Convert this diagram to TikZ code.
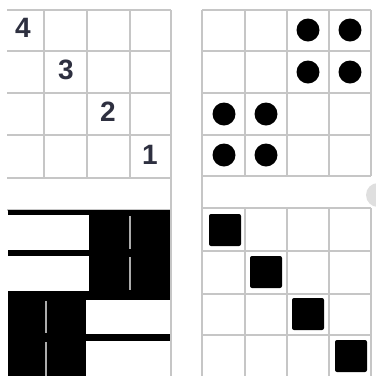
\documentclass[tikz,border=0pt]{standalone}
\usepackage{fontspec}
\setmainfont{Liberation Sans}
\usepackage{tikz}
\usetikzlibrary{positioning}
\definecolor{digitcolor}{rgb}{0.18,0.19,0.25}

\begin{document}
\begin{tikzpicture}[x=1pt, y=-1pt,
  gridline/.style={draw=gray!45, line width=1.8pt},
  dotmark/.style={circle, fill=black, minimum size=23pt, inner sep=0pt},
  boxmark/.style={rectangle, fill=black, rounded corners=2pt,
                  minimum size=32pt, inner sep=0pt},
  sep/.style={draw=gray!65, line width=2.2pt},
  digit/.style={font=\bfseries\fontsize{28}{28}\selectfont, text=digitcolor}
]
\useasboundingbox (0,0) rectangle (376,376);

% left panel: numbered grid
\foreach \y in {10,51,93,135,178,210}
  \draw[gridline] (7,\y) -- (171,\y);
\foreach \x in {44,87,130}
  \draw[gridline] (\x,10) -- (\x,178);

\node[digit] (n4) at (23,28)  {4};
\node[digit] (n3) at (66,70)  {3};
\node[digit] (n2) at (108,112) {2};
\node[digit] (n1) at (150,155) {1};

% left panel: black and white pairs
\fill[black] (8,210) rectangle (170,376);
\fill[white] (8,215) rectangle (89,250);
\fill[white] (8,256) rectangle (89,291);
\fill[white] (86,300) rectangle (170,334);
\fill[white] (86,341) rectangle (170,378);
\draw[sep] (130,216) -- (130,249);
\draw[sep] (130,257) -- (130,290);
\draw[sep] (46,301) -- (46,333);
\draw[sep] (46,342) -- (46,378);
\draw[gridline] (171,10) -- (171,378);

% right panel: dots grid
\foreach \y in {10,51,93,135,176,208,251,294,335}
  \draw[gridline] (202,\y) -- (371,\y);
\foreach \x in {245,287,329,371}
  \draw[gridline] (\x,10) -- (\x,176);
\foreach \x in {245,287,329,371}
  \draw[gridline] (\x,208) -- (\x,378);
\draw[gridline] (202,10) -- (202,378);

\node[dotmark] (d13) at (308,30)  {};
\node[dotmark] (d14) at (350,30)  {};
\node[dotmark] (d23) at (308,72)  {};
\node[dotmark] (d24) at (350,72)  {};
\node[dotmark] (d31) at (224,114) {};
\node[dotmark] (d32) at (266,114) {};
\node[dotmark] (d41) at (224,155) {};
\node[dotmark] (d42) at (266,155) {};

% scroll knob
\fill[gray!25] (378,195) circle (12);

% right panel: diagonal squares
\node[boxmark] (b1) at (225,230) {};
\node[boxmark] (b2) at (266,272) {};
\node[boxmark] (b3) at (308,314) {};
\node[boxmark] (b4) at (351,356) {};
\end{tikzpicture}
\end{document}
